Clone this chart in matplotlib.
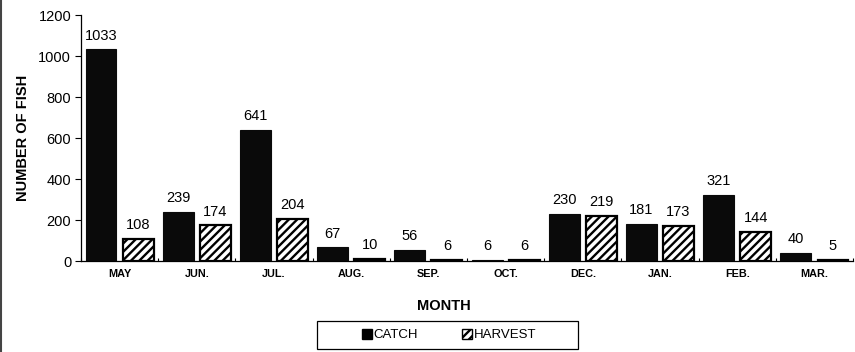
import matplotlib
matplotlib.use("Agg")
import matplotlib.pyplot as plt
import numpy as np
from matplotlib.patches import Patch, Rectangle
from matplotlib.lines import Line2D

months = ["MAY", "JUN.", "JUL.", "AUG.", "SEP.", "OCT.", "DEC.", "JAN.", "FEB.", "MAR."]
catch = [1033, 239, 641, 67, 56, 6, 230, 181, 321, 40]
harvest = [108, 174, 204, 10, 6, 6, 219, 173, 144, 5]

plt.rcParams['font.family'] = ['Liberation Sans', 'DejaVu Sans']
plt.rcParams['hatch.linewidth'] = 1.7

fig = plt.figure(figsize=(8.55, 3.52), dpi=100)
ax = fig.add_axes([0.0947, 0.2585, 0.9030, 0.6985])

x = np.arange(len(months))
w = 0.40
off = 0.04 + w / 2
b1 = ax.bar(x - off, catch, w, color='#0a0a0a', edgecolor='#0a0a0a', linewidth=0.8, label='CATCH')
b2 = ax.bar(x + off, harvest, w, color='white', edgecolor='black', linewidth=1.6,
            hatch='////', label='HARVEST')

for rect, v in zip(b1, catch):
    ax.text(rect.get_x() + rect.get_width() / 2, v + 33, str(v), ha='center', va='bottom', fontsize=10.5)
for rect, v in zip(b2, harvest):
    ax.text(rect.get_x() + rect.get_width() / 2, v + 33, str(v), ha='center', va='bottom', fontsize=10.5)

ax.set_xlim(-0.5, len(months) - 0.5)
ax.set_ylim(0, 1200)
ax.set_yticks(range(0, 1201, 200))
ax.tick_params(axis='y', labelsize=10.5, length=4, width=0.8, direction='out', pad=3)
ax.set_xticks(x)
ax.set_xticklabels(months, fontsize=7.8, fontweight='bold')
ax.tick_params(axis='x', length=0, pad=6)
ax.set_xticks(np.arange(-0.5, len(months), 1.0), minor=True)
ax.tick_params(axis='x', which='minor', length=2.5, width=0.8, direction='in')
ax.spines['top'].set_visible(False)
ax.spines['right'].set_visible(False)
ax.spines['left'].set_linewidth(0.9)
ax.spines['bottom'].set_linewidth(0.9)

ax.set_ylabel('NUMBER OF FISH', fontsize=10.5, fontweight='bold', labelpad=6)
fig.text(0.5187, 0.131, 'MONTH', ha='center', va='center', fontsize=10.5, fontweight='bold')

handles = [Patch(facecolor='black', edgecolor='black'),
           Patch(facecolor='white', edgecolor='black', hatch='////')]
leg = fig.legend(handles, ['CATCH', 'HARVEST'], loc='center', bbox_to_anchor=(0.525, 0.048),
                 ncol=2, fontsize=9.5, frameon=False,
                 handlelength=0.75, handleheight=0.75, handletextpad=0.1, columnspacing=3.4,
                 borderpad=0.3)
fig.add_artist(Rectangle((317 / 855, 1 - 349 / 352), 261 / 855, 28 / 352, transform=fig.transFigure,
                         facecolor='none', edgecolor='black', linewidth=0.9))

fig.add_artist(Line2D([0.001, 0.001], [0, 1], transform=fig.transFigure, color='#444444', linewidth=1.5))

fig.savefig('out.png', dpi=100)
